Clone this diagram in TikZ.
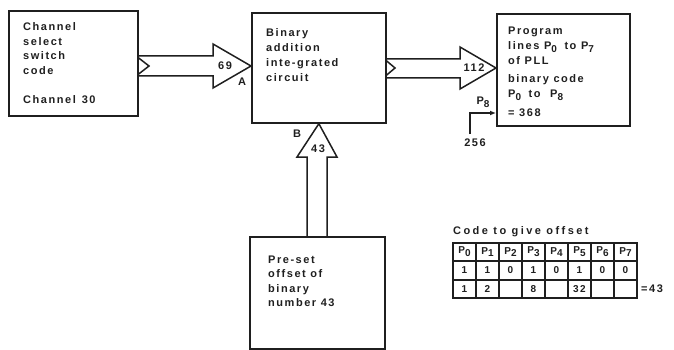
\documentclass[tikz,border=0pt]{standalone}
\usepackage{fontspec}
\setmainfont{Liberation Sans}[LetterSpace=14]
\newfontfamily\capfont{Liberation Sans}[LetterSpace=22]
\usetikzlibrary{arrows.meta,calc}
\definecolor{ink}{gray}{0.12}
\newcommand\Sub[1]{\raisebox{-2.8pt}{\fontsize{10}{10}\selectfont #1}}
\begin{document}
\begin{tikzpicture}[x=1pt,y=-1pt,line join=miter,
  box/.style={draw=ink,line width=1.7pt,inner sep=0pt,anchor=north west},
  txt/.style={anchor=base west,inner sep=0pt,font=\bfseries\fontsize{11}{13}\selectfont,text=ink},
  fat/.style={draw=ink,line width=1.5pt},
  lbl/.style={inner sep=0pt,font=\bfseries\fontsize{11}{13}\selectfont,text=ink},
  cell/.style={inner sep=0pt,font=\bfseries\fontsize{10}{11}\selectfont,text=ink},
  grid/.style={draw=ink,line width=1.6pt}]
\useasboundingbox (0,0) rectangle (674,350);
% boxes
\node[box,minimum width=129pt,minimum height=105pt] (b1) at (8,10) {};
\node[box,minimum width=134pt,minimum height=110pt] (b2) at (251,12) {};
\node[box,minimum width=133pt,minimum height=112pt] (b3) at (496,13) {};
\node[box,minimum width=135pt,minimum height=112pt] (b4) at (249,236) {};
% box texts
\node[txt] (t11) at (23,31) {Channel};
\node[txt] (t12) at (23,46) {select};
\node[txt] (t13) at (23,60) {switch};
\node[txt] (t14) at (23,75) {code};
\node[txt] (t15) at (23,103) {Channel\hspace{6pt}30};
\node[txt] (t21) at (266,37) {Binary};
\node[txt] (t22) at (266,52) {addition};
\node[txt] (t23) at (266,67) {inte-grated};
\node[txt] (t24) at (266,82) {circuit};
\node[txt] (t31) at (508,35) {Program};
\node[txt] (t32) at (508,50) {lines P\Sub{0}\hspace{3pt} to P\Sub{7}};
\node[txt] (t33) at (508,65) {of PLL};
\node[txt] (t34) at (508,83) {binary code};
\node[txt] (t35) at (508,98) {P\Sub{0}\hspace{3pt} to\hspace{5pt} P\Sub{8}};
\node[txt] (t36) at (508,117) {= 368};
\node[txt] (t41) at (268,263) {Pre-set};
\node[txt] (t42) at (268,277) {offset of};
\node[txt] (t43) at (268,292) {binary};
\node[txt] (t44) at (268,306) {number 43};
% fat arrow 1
\draw[fat] (b1.east |- 0,56) -- (213,56) -- (213,44) -- (b2.west |- 0,66) -- (213,88) -- (213,76) -- (b1.east |- 0,76);
\draw[fat] (b1.east |- 0,58) -- (149,66) -- (b1.east |- 0,74);
% fat arrow 2
\draw[fat] (b2.east |- 0,59) -- (460,59) -- (460,47) -- (b3.west |- 0,68) -- (460,89) -- (460,78) -- (b2.east |- 0,78);
\draw[fat] (b2.east |- 0,61) -- (395,68) -- (b2.east |- 0,75);
% fat arrow 3
\draw[fat] (b4.north -| 307,0) -- (307,157) -- (297,157) -- (b2.south) -- (337,157) -- (327,157) -- (b4.north -| 327,0);
% labels
\node[lbl] (l69) at (225,66) {69};
\node[lbl] (lA) at (242,82) {A};
\node[lbl] (l112) at (474,68) {112};
\node[lbl] (lB) at (297,134) {B};
\node[lbl] (l43) at (318,149) {43};
\node[lbl] (lP8) at (483,102) {P\Sub{8}};
\node[lbl] (l256) at (475,143) {256};
% P8 line
\coordinate (p8s) at (470,134);
\coordinate (p8y) at (0,113);
\draw[ink,line width=1.5pt,-{Latex[length=6pt,width=5pt]}] (p8s) |- (b3.west |- p8y);
% table
\node[txt,font=\capfont\bfseries\fontsize{11}{13}\selectfont] (cap) at (453,234) {Code to give offset};
\draw[grid] (453,243) rectangle (637,298);
\draw[grid] (453,261) -- (637,261);
\draw[grid] (453,280) -- (637,280);
\foreach \k in {1,...,7} \draw[grid] (453+23*\k,243) -- (453+23*\k,298);
\foreach \i in {0,...,7} \node[cell] (h\i) at (464.5+23*\i,252) {P\Sub{\i}};
\foreach \v [count=\i from 0] in {1,1,0,1,0,1,0,0} \node[cell] (r\i) at (464.5+23*\i,270.5) {\v};
\foreach \v [count=\i from 0] in {1,2,,8,,32,,} \node[cell] (s\i) at (464.5+23*\i,289) {\v};
\node[lbl,anchor=west] (eq) at (641,289) {=43};
\end{tikzpicture}
\end{document}
